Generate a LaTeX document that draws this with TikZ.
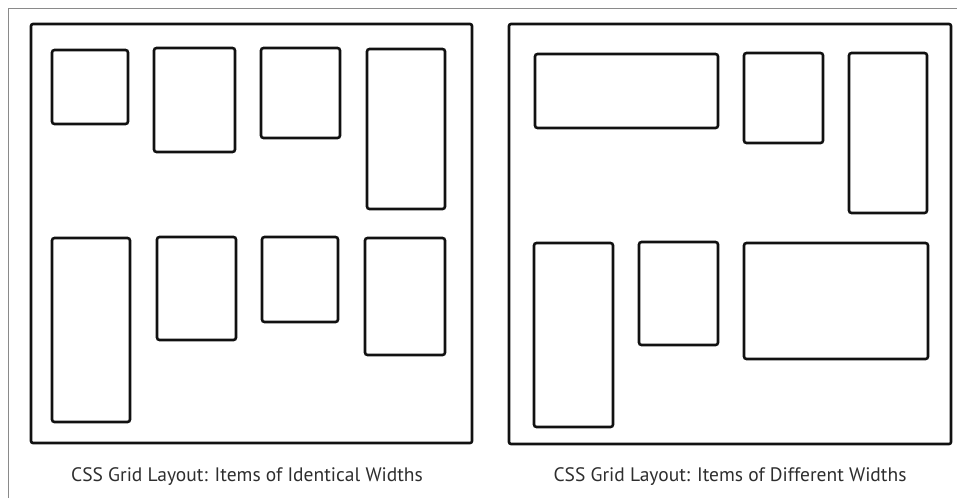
\documentclass[tikz,border=0pt]{standalone}
\usepackage{fontspec}
\setmainfont{PT Sans}
\usetikzlibrary{positioning}
\definecolor{gridLine}{HTML}{111111}
\definecolor{gridText}{HTML}{2E2E2E}
\definecolor{frameGray}{HTML}{8A8A8A}

\begin{document}
\begin{tikzpicture}[x=1pt, y=-1pt,
  panel/.style={draw=gridLine, line width=2.6pt, rounded corners=2pt},
  item/.style={draw=gridLine, line width=2.6pt, rounded corners=2.5pt},
  caption/.style={text=gridText, font=\fontsize{19.5}{22}\selectfont, inner sep=0pt, anchor=base}
]
\useasboundingbox (0,0) rectangle (957,498);
\fill[white] (0,0) rectangle (957,498);
\draw[frameGray, line width=1pt] (8,498) -- (8,8) -- (957,8);

% left panel: identical widths
\draw[panel] (31,24) rectangle (472,443);
\foreach \xa/\ya/\xb/\yb in {52/50/128/124, 154/48/235/152, 261/48/340/138, 367/49/445/209,
  52/238/130/422, 157/237/236/340, 262/237/338/322, 365/238/445/355}
  \draw[item] (\xa,\ya) rectangle (\xb,\yb);
\node[caption] (capL) at (247,481) {CSS Grid Layout: Items of Identical Widths};

% right panel: different widths
\draw[panel] (509,24) rectangle (951,444);
\foreach \xa/\ya/\xb/\yb in {535/54/718/128, 744/53/823/143, 849/53/927/213,
  534/243/613/427, 639/242/718/345, 744/243/928/359}
  \draw[item] (\xa,\ya) rectangle (\xb,\yb);
\node[caption] (capR) at (730,481) {CSS Grid Layout: Items of Different Widths};
\end{tikzpicture}
\end{document}
